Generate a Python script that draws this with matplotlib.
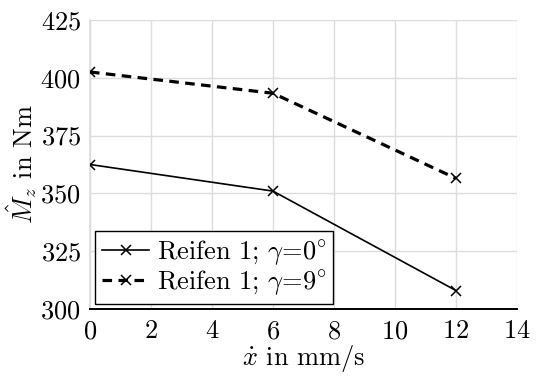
import matplotlib
matplotlib.use("Agg")
import matplotlib.pyplot as plt

plt.rcParams["font.family"] = "serif"
plt.rcParams["font.serif"] = ["cmr10"]
plt.rcParams["mathtext.fontset"] = "cm"
plt.rcParams["axes.formatter.use_mathtext"] = True

x_vals = [0, 6, 12]
mz_gamma0 = [362.5, 351.0, 308.0]
mz_gamma9 = [402.5, 393.3, 356.5]
labels = [r"Reifen 1; $\gamma$=$0^{\circ}$", r"Reifen 1; $\gamma$=$9^{\circ}$"]
x_ticks = [0, 2, 4, 6, 8, 10, 12, 14]
y_ticks = [300, 325, 350, 375, 400, 425]

FS = 19
GRID = "#dcdcdc"

fig = plt.figure(figsize=(5.43, 3.76), dpi=100)
ax = fig.add_axes([0.1657, 0.178, 0.7864, 0.769])

ax.plot(x_vals, mz_gamma0, color="black", lw=1.2, marker="x", ms=7, mew=1.1,
        label=labels[0], zorder=3)
ax.plot(x_vals, mz_gamma9, color="black", lw=2.3, ls=(0, (3, 2)), marker="x",
        ms=7, mew=1.1, label=labels[1], zorder=3)

ax.set_xlim(0, 14)
ax.set_ylim(300, 425)
ax.set_xticks(x_ticks)
ax.set_yticks(y_ticks)
ax.tick_params(left=False, bottom=False, labelsize=FS)
ax.tick_params(axis="y", pad=3)
ax.tick_params(axis="x", pad=4)
ax.grid(True, color=GRID, lw=1)
ax.set_axisbelow(True)
for s in ["top", "right", "left"]:
    ax.spines[s].set_visible(False)
ax.axvline(0, color=GRID, lw=1.2, clip_on=False, zorder=1)
ax.spines["bottom"].set_linewidth(1.4)

ax.set_xlabel(r"$\dot{x}$ in mm/s", fontsize=FS, labelpad=0)
ax.set_ylabel(r"$\hat{M}_z$ in Nm", fontsize=FS, labelpad=1)

leg = ax.legend(loc="lower left", fontsize=FS, frameon=True, fancybox=False,
                edgecolor="black", framealpha=1, borderpad=0.25,
                handlelength=1.8, handletextpad=0.3, labelspacing=0.05,
                borderaxespad=0.2)
leg.get_frame().set_linewidth(1.0)

fig.savefig("out.png", dpi=100)
